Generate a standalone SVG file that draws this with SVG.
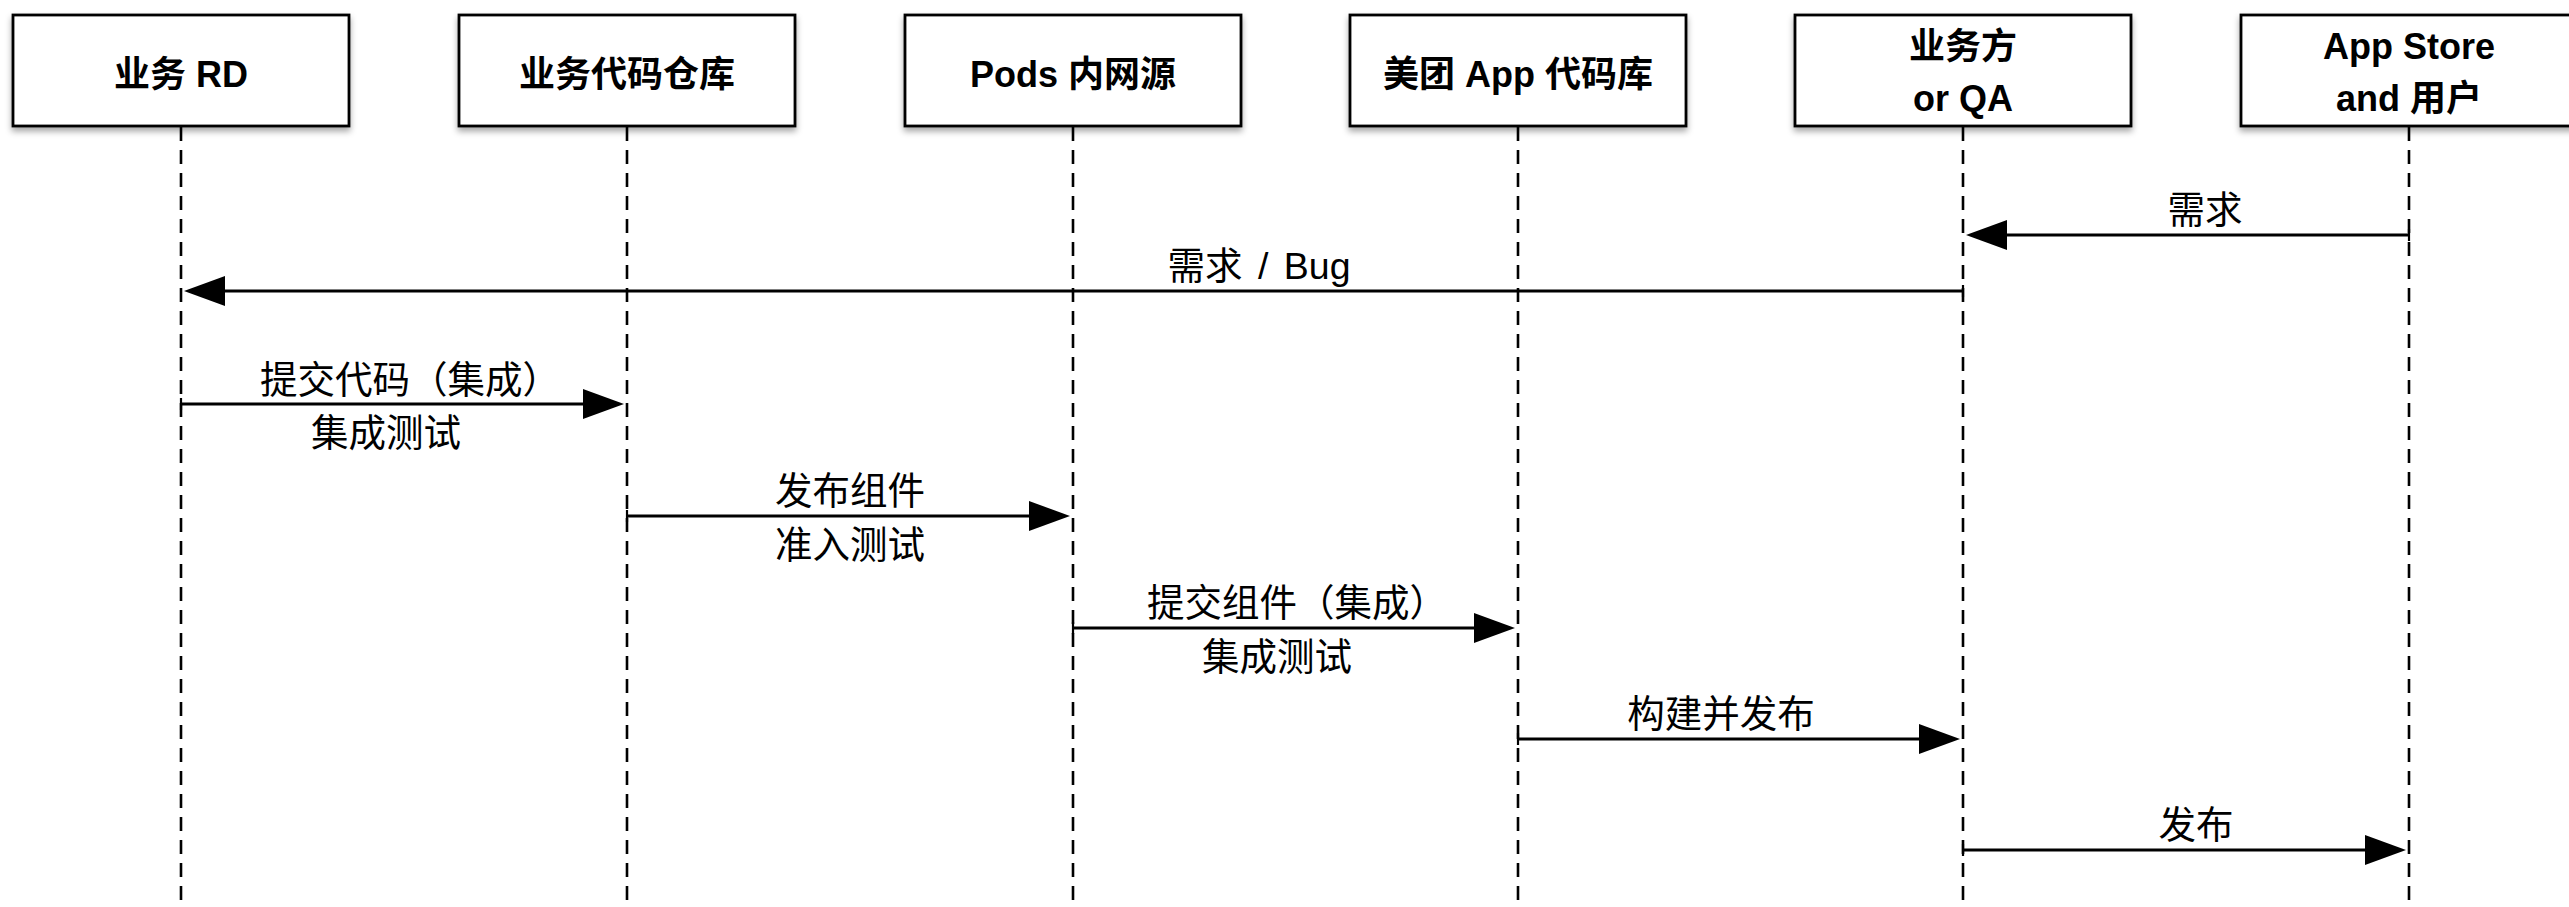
<svg xmlns="http://www.w3.org/2000/svg" width="2569" height="907" viewBox="0 0 2569 907">
<style>
.box{fill:#fff;stroke:#000;stroke-width:2.8;filter:url(#sh)}
.life{stroke:#000;stroke-width:2.6;stroke-dasharray:14 9;fill:none}
.nt{font-family:"Liberation Sans","Noto Sans CJK SC",sans-serif;font-size:36px;font-weight:bold;text-anchor:middle;fill:#000}
.msg{stroke:#000;stroke-width:3;fill:none;marker-end:url(#ah);marker-start:url(#tk)}
.lb{font-family:"Liberation Sans","Noto Sans CJK SC",sans-serif;font-size:37.5px;text-anchor:middle;fill:#000}
</style>
<defs>
<filter id="sh" x="-5%" y="-10%" width="110%" height="130%">
<feDropShadow dx="0" dy="4" stdDeviation="3" flood-color="#000" flood-opacity="0.35"/>
</filter>
<marker id="ah" markerUnits="userSpaceOnUse" viewBox="0 -16 42 32" markerWidth="42" markerHeight="32" refX="1" refY="0" orient="auto">
<path d="M0,-15 L41,0 L0,15 z" fill="#000"/>
</marker>
<marker id="tk" markerUnits="userSpaceOnUse" viewBox="-2 -8 4 16" markerWidth="4" markerHeight="16" refX="0" refY="0" orient="auto">
<path d="M0,-6 V6" stroke="#000" stroke-width="2.2"/>
</marker>
</defs>
<rect width="2569" height="907" fill="#fff"/>
<g id="lifelines">
<line class="life" x1="181" y1="127" x2="181" y2="907"/>
<line class="life" x1="627" y1="127" x2="627" y2="907"/>
<line class="life" x1="1073" y1="127" x2="1073" y2="907"/>
<line class="life" x1="1518" y1="127" x2="1518" y2="907"/>
<line class="life" x1="1963" y1="127" x2="1963" y2="907"/>
<line class="life" x1="2409" y1="127" x2="2409" y2="907"/>
</g>
<g id="node-rd">
<rect class="box" x="13" y="15" width="336" height="111"/>
<text class="nt" x="181" y="87">业务 RD</text>
</g>
<g id="node-repo">
<rect class="box" x="459" y="15" width="336" height="111"/>
<text class="nt" x="627" y="87">业务代码仓库</text>
</g>
<g id="node-pods">
<rect class="box" x="905" y="15" width="336" height="111"/>
<text class="nt" x="1073" y="87">Pods 内网源</text>
</g>
<g id="node-app">
<rect class="box" x="1350" y="15" width="336" height="111"/>
<text class="nt" x="1518" y="87">美团 App 代码库</text>
</g>
<g id="node-qa">
<rect class="box" x="1795" y="15" width="336" height="111"/>
<text class="nt" x="1963" y="59">业务方</text>
<text class="nt" x="1963" y="111">or QA</text>
</g>
<g id="node-store">
<rect class="box" x="2241" y="15" width="340" height="111"/>
<text class="nt" x="2409" y="59">App Store</text>
<text class="nt" x="2409" y="111">and 用户</text>
</g>
<g id="connectors">
<line class="msg" x1="2409" y1="235" x2="2006" y2="235"/>
<line class="msg" x1="1963" y1="291" x2="224" y2="291"/>
<line class="msg" x1="181" y1="404" x2="584" y2="404"/>
<line class="msg" x1="627" y1="516" x2="1030" y2="516"/>
<line class="msg" x1="1073" y1="628" x2="1475" y2="628"/>
<line class="msg" x1="1518" y1="739" x2="1920" y2="739"/>
<line class="msg" x1="1963" y1="850" x2="2366" y2="850"/>
<text class="lb" x="2205" y="223">需求</text>
<text class="lb" x="1259" y="279">需求<tspan dx="5"> / </tspan><tspan dx="5">Bug</tspan></text>
<text class="lb" x="410" y="393">提交代码（集成）</text>
<text class="lb" x="386" y="446">集成测试</text>
<text class="lb" x="850" y="504">发布组件</text>
<text class="lb" x="850" y="558">准入测试</text>
<text class="lb" x="1297" y="616">提交组件（集成）</text>
<text class="lb" x="1277" y="670">集成测试</text>
<text class="lb" x="1721" y="727">构建并发布</text>
<text class="lb" x="2196" y="838">发布</text>
</g>
</svg>
